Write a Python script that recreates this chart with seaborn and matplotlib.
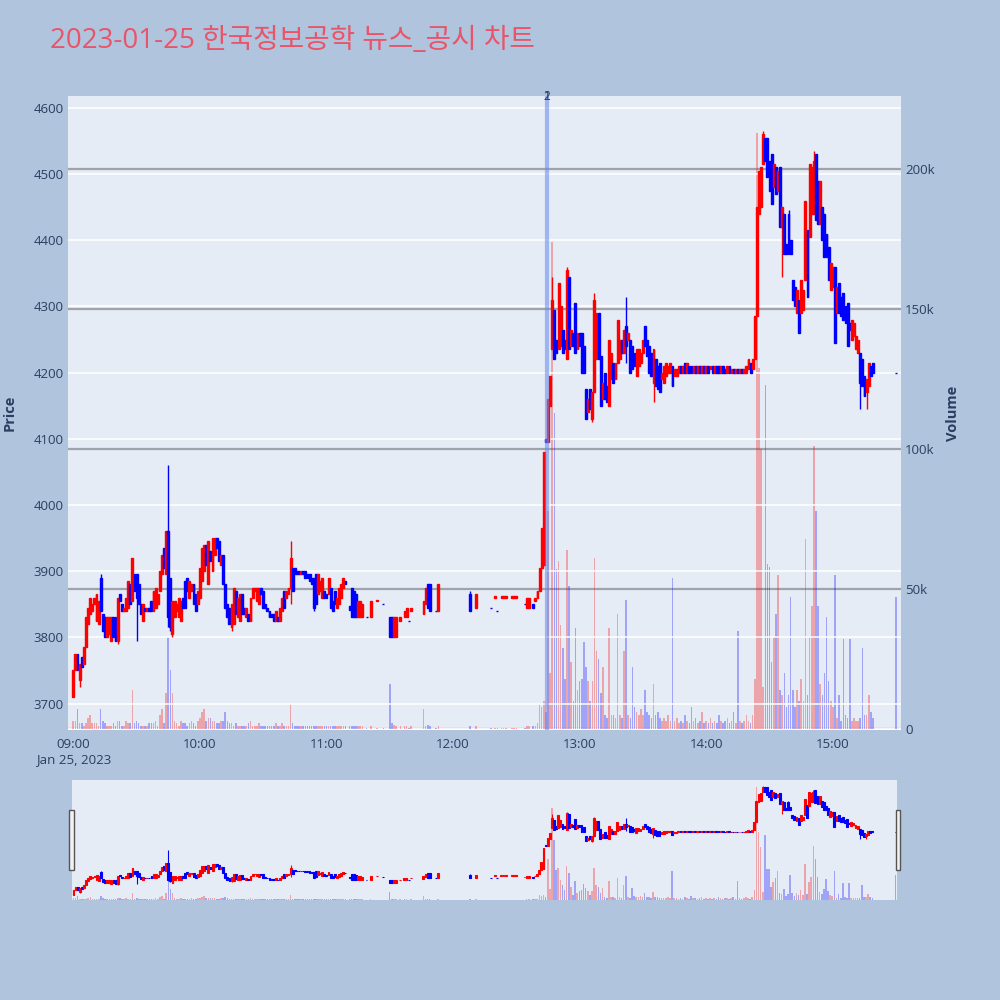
import pandas as pd
import seaborn as sns
import matplotlib.pyplot as plt
import matplotlib.transforms as mtransforms
from matplotlib.patches import Rectangle

# minute candles, index 0 = 09:00 (prices in KRW, volume in thousands)
open_09 = [3710, 3750, 3775, 3735, 3770, 3760, 3785, 3820, 3835, 3840,
           3850, 3825, 3820, 3890, 3835, 3830, 3800, 3805, 3795, 3830,
           3830, 3795, 3865, 3850, 3840, 3840, 3845, 3880, 3855, 3895,
           3895, 3880, 3850, 3825, 3845, 3840, 3845, 3855, 3840, 3845,
           3850, 3870, 3895, 3935, 3895, 3960, 3890, 3805, 3830, 3840,
           3830, 3825, 3860, 3885, 3890, 3860, 3870, 3880, 3865, 3850]
close_09 = [3750, 3775, 3750, 3760, 3755, 3785, 3830, 3845, 3860, 3850,
            3860, 3865, 3855, 3840, 3810, 3800, 3830, 3830, 3830, 3800,
            3795, 3860, 3855, 3840, 3845, 3860, 3885, 3850, 3920, 3870,
            3860, 3850, 3835, 3850, 3840, 3845, 3840, 3840, 3870, 3875,
            3865, 3900, 3925, 3905, 3960, 3830, 3815, 3855, 3855, 3850,
            3860, 3855, 3845, 3845, 3870, 3885, 3880, 3850, 3840, 3870]
vol_09 = [3, 3, 7, 2, 2, 1, 2, 4, 5, 2,
          2, 2, 1, 7, 3, 2, 1, 1, 1, 2,
          1, 3, 3, 1, 1, 3, 2, 2, 14, 2,
          3, 2, 1, 1, 1, 1, 2, 2, 2, 3,
          1, 5, 7, 2, 13, 33, 21, 13, 3, 2,
          1, 3, 2, 2, 1, 2, 3, 2, 1, 3]

open_10 = [3860, 3885, 3900, 3940, 3880, 3930, 3900, 3925, 3950, 3945,
           3910, 3925, 3880, 3850, 3845, 3815, 3820, 3870, 3830, 3825,
           3865, 3845, 3830, 3835, 3825, 3860, 3870, 3855, 3850, 3875,
           3870, 3850, 3845, 3840, 3835, 3835, 3825, 3830, 3825, 3840,
           3870, 3860, 3865, 3875, 3905, 3905, 3900, 3900, 3895, 3900,
           3900, 3895, 3895, 3890, 3890, 3895, 3865, 3870, 3860, 3870]
close_10 = [3905, 3935, 3940, 3910, 3945, 3915, 3950, 3950, 3935, 3915,
            3925, 3880, 3845, 3830, 3820, 3850, 3875, 3835, 3860, 3865,
            3835, 3835, 3845, 3825, 3860, 3875, 3875, 3875, 3875, 3865,
            3845, 3845, 3840, 3830, 3830, 3825, 3840, 3825, 3845, 3860,
            3845, 3870, 3875, 3920, 3870, 3895, 3895, 3895, 3900, 3895,
            3890, 3890, 3885, 3880, 3845, 3850, 3895, 3885, 3890, 3860]
vol_10 = [4, 6, 7, 3, 4, 4, 3, 3, 2, 2,
          3, 3, 6, 3, 2, 2, 1, 2, 1, 1,
          1, 1, 1, 2, 3, 1, 1, 1, 2, 1,
          1, 1, 1, 1, 1, 1, 2, 1, 1, 2,
          1, 1, 1, 9, 2, 1, 1, 1, 1, 1,
          1, 1, 1, 1, 1, 1, 1, 1, 1, 1]

open_11 = [3865, 3865, 3875, 3855, 3870, 3845, 3850, 3860, 3875, 3885,
           None, 3847, 3875, 3870, 3865, 3830, 3830, 3830, None, 3830,
           None, 3830, None, None, 3855, None, None, 3850, None, None,
           3830, 3830, 3800, 3800, None, 3825, None, 3830, 3830, 3825,
           3840, None, None, None, None, None, 3835, 3850, 3880, 3880,
           None, None, 3840, 3840, None, None, None, None, None, None]
close_11 = [3860, 3890, 3845, 3840, 3850, 3860, 3875, 3880, 3890, 3880,
            None, 3842, 3830, 3830, 3830, 3855, 3855, 3850, None, 3830,
            None, 3855, None, None, 3857, None, None, 3850, None, None,
            3800, 3800, 3830, 3830, None, 3830, None, 3840, 3845, 3825,
            3845, None, None, None, None, None, 3855, 3875, 3845, 3840,
            None, None, 3840, 3880, None, None, None, None, None, None]
vol_11 = [1, 1, 1, 1, 1, 1, 1, 1, 1, 1,
          None, 1, 1, 1, 1, 1, 1, 1, None, 0.5,
          None, 1, None, None, 0.5, None, None, 0.5, None, None,
          16, 2, 1.5, 1, None, 1, None, 1, 1, 0.5,
          1, None, None, None, None, None, 7, 1, 1.5, 1,
          None, None, 0.5, 1, None, None, None, None, None, None]

open_12 = [None, None, None, None, None, None, None, None, 3865, None,
           None, 3845, None, None, None, None, None, None, 3845, None,
           3860, 3840, None, 3860, 3860, 3860, None, None, 3860, 3860,
           3860, None, None, None, 3850, 3845, 3845, None, 3850, 3855,
           3860, 3870, 3905, 3910, 4100, 4095, 4150, 4235, 4295, 4250,
           4235, 4240, 4265, 4250, 4220, 4345, 4240, 4260, 4305, 4235]
close_12 = [None, None, None, None, None, None, None, None, 3840, None,
            None, 3865, None, None, None, None, None, None, 3845, None,
            3862, 3840, None, 3862, 3862, 3862, None, None, 3862, 3862,
            3862, None, None, None, 3850, 3860, 3860, None, 3845, 3860,
            3870, 3905, 3965, 4080, 4095, 4160, 4195, 4310, 4220, 4230,
            4335, 4300, 4230, 4235, 4355, 4235, 4265, 4240, 4230, 4260]
vol_12 = [None, None, None, None, None, None, None, None, 1, None,
          None, 1, None, None, None, None, None, None, 0.5, None,
          0.3, 0.3, None, 0.3, 0.3, 0.3, None, None, 0.3, 0.3,
          0.3, None, None, None, 0.5, 1, 1, None, 1, 1,
          2, 9, 8, 10, 6, 78, 20, 174, 113, 57,
          60, 37, 29, 18, 64, 51, 24, 10, 36, 14]

open_13 = [4260, 4260, 4240, 4175, 4140, 4175, 4130, 4170, 4220, 4290,
           4225, 4160, 4200, 4180, 4150, 4190, 4215, 4190, 4215, 4220,
           4250, 4230, 4270, 4250, 4250, 4240, 4230, 4195, 4210, 4215,
           4230, 4270, 4250, 4240, 4230, 4185, 4220, 4210, 4215, 4190,
           4185, 4195, 4200, 4200, 4210, 4195, 4195, 4200, 4210, 4200,
           4215, 4200, 4210, 4210, 4200, 4210, 4200, 4210, 4200, 4210]
close_13 = [4240, 4200, 4200, 4130, 4160, 4145, 4170, 4310, 4290, 4220,
            4150, 4185, 4160, 4155, 4250, 4230, 4185, 4215, 4280, 4250,
            4230, 4265, 4240, 4260, 4200, 4205, 4210, 4235, 4235, 4230,
            4250, 4240, 4225, 4200, 4195, 4235, 4180, 4175, 4170, 4200,
            4210, 4215, 4210, 4215, 4180, 4205, 4205, 4210, 4200, 4210,
            4200, 4215, 4200, 4200, 4210, 4200, 4210, 4200, 4210, 4200]
vol_13 = [17, 18, 31, 22, 17, 10, 17, 61, 28, 25,
          13, 22, 5, 4, 36, 5, 5, 4, 41, 5,
          4, 28, 46, 5, 4, 22, 8, 6, 5, 7,
          5, 14, 6, 5, 4, 16, 5, 6, 4, 3,
          4, 3, 5, 3, 54, 3, 4, 2, 3, 2,
          5, 3, 2, 8, 3, 4, 2, 3, 6, 2]

open_14 = [4200, 4210, 4205, 4210, 4200, 4210, 4210, 4200, 4210, 4205,
           4200, 4210, 4200, 4205, 4200, 4205, 4200, 4205, 4200, 4200,
           4205, 4215, 4205, 4220, 4285, 4440, 4450, 4515, 4555, 4555,
           4520, 4530, 4480, 4510, 4475, 4510, 4420, 4440, 4395, 4440,
           4400, 4340, 4330, 4290, 4310, 4290, 4295, 4340, 4415, 4405,
           4440, 4440, 4530, 4490, 4425, 4450, 4440, 4410, 4390, 4325]
close_14 = [4210, 4200, 4210, 4200, 4210, 4200, 4200, 4210, 4200, 4200,
            4210, 4200, 4205, 4200, 4205, 4200, 4205, 4200, 4205, 4210,
            4220, 4200, 4220, 4285, 4450, 4505, 4510, 4560, 4520, 4495,
            4475, 4455, 4515, 4470, 4505, 4420, 4450, 4380, 4380, 4380,
            4380, 4310, 4300, 4325, 4260, 4340, 4325, 4460, 4315, 4515,
            4510, 4520, 4430, 4425, 4490, 4400, 4375, 4375, 4340, 4365]
vol_14 = [3, 2, 4, 2, 3, 2, 5, 3, 2, 3,
          4, 2, 3, 6, 2, 35, 3, 2, 3, 5,
          3, 2, 5, 18, 213, 129, 100, 15, 123, 59,
          58, 24, 33, 41, 55, 14, 12, 20, 8, 12,
          47, 14, 8, 14, 10, 18, 10, 68, 12, 33,
          44, 101, 78, 44, 16, 12, 20, 40, 17, 10]

open_15 = [4330, 4360, 4290, 4335, 4315, 4320, 4300, 4305, 4275, 4250,
           4255, 4235, 4230, 4230, 4220, 4195, 4170, 4180, 4210, 4215,
           None, None, None, None, None, None, None, None, None, None,
           4200]
close_15 = [4360, 4245, 4330, 4290, 4285, 4280, 4275, 4240, 4265, 4280,
            4275, 4255, 4250, 4185, 4180, 4165, 4190, 4215, 4195, 4200,
            None, None, None, None, None, None, None, None, None, None,
            4200]
vol_15 = [8, 55, 4, 12, 3, 32, 5, 4, 32, 3,
          4, 3, 3, 4, 29, 5, 5, 12, 6, 4,
          None, None, None, None, None, None, None, None, None, None,
          47]

# wicks reaching beyond the candle body
wick_minute = [3, 13, 21, 30, 45, 46, 47, 75, 103, 114, 188, 227, 234,
               246, 247, 262, 275, 327, 336, 339, 351, 373, 376]
wick_high = [None, 3895, None, None, 4060, None, None, None, 3945, None, 3870, 4345, 4360,
             None, 4320, 4315, None, 4565, None, 4445, 4535, None, None]
wick_low = [3725, None, 3790, 3795, 3815, 3810, 3800, 3810, 3850, 3840, None, None, None,
            4125, None, 4215, 4155, None, 4345, None, None, 4145, 4145]

# news / disclosure markers
news_minute = [224.5, 224.5]
news_label = ['1', '2']

hour_labels = ['09:00\nJan 25, 2023', '10:00', '11:00', '12:00', '13:00', '14:00', '15:00']

sessions = [(0, open_09, close_09, vol_09), (60, open_10, close_10, vol_10),
            (120, open_11, close_11, vol_11), (180, open_12, close_12, vol_12),
            (240, open_13, close_13, vol_13), (300, open_14, close_14, vol_14),
            (360, open_15, close_15, vol_15)]

frames = []
for start, o, c, v in sessions:
    frames.append(pd.DataFrame({'minute': range(start, start + len(o)),
                                'open': pd.array(o, dtype='Float64'),
                                'close': pd.array(c, dtype='Float64'),
                                'volume': pd.array(v, dtype='Float64')}))
df = pd.concat(frames).dropna().astype(float).set_index('minute')
df['volume'] *= 1000
df['high'] = df[['open', 'close']].max(axis=1)
df['low'] = df[['open', 'close']].min(axis=1)
for m, hi, lo in zip(wick_minute, wick_high, wick_low):
    if hi is not None:
        df.loc[m, 'high'] = hi
    if lo is not None:
        df.loc[m, 'low'] = lo
df = df.reset_index()
df['color'] = ['#FF0000' if c > o else '#0000FF' for o, c in zip(df['open'], df['close'])]

BG = '#B0C4DE'
PLOT_BG = '#E5ECF6'
TXT = '#2a3f5f'

sns.set_theme(style="darkgrid", rc={'axes.facecolor': PLOT_BG, 'figure.facecolor': BG,
                                    'grid.color': 'white', 'axes.edgecolor': PLOT_BG})
plt.rcParams['font.family'] = ['Open Sans', 'Noto Sans CJK KR', 'DejaVu Sans']


def draw_candles(ax, data, body_w, lw):
    ax.vlines(data['minute'], data['low'], data['high'], colors=data['color'], lw=lw, zorder=3)
    ax.bar(data['minute'], (data['close'] - data['open']).abs(),
           bottom=data[['open', 'close']].min(axis=1), width=body_w,
           color=data['color'], edgecolor=data['color'], linewidth=lw, zorder=3)


def draw_volume(ax, data):
    ax.bar(data['minute'], data['volume'], width=0.75, color=data['color'],
           alpha=0.3, linewidth=0, zorder=2)


fig = plt.figure(figsize=(10, 10), dpi=100)

# main chart: volume axis behind, price axis on top
ax_vol = fig.add_axes([0.068, 0.270, 0.833, 0.634])
ax_px = ax_vol.twinx()

draw_volume(ax_vol, df)
ax_vol.axhline(0, color='white', lw=2, zorder=1)
ax_vol.set_ylim(-360, 226100)
ax_vol.set_yticks([0, 50000, 100000, 150000, 200000])
ax_vol.set_yticklabels(['0', '50k', '100k', '150k', '200k'])
ax_vol.yaxis.tick_right()
ax_vol.grid(axis='y', color='#A0A3AA', lw=1.6)
ax_vol.grid(axis='x', visible=False)

draw_candles(ax_px, df, 0.9, 1.0)
ax_px.set_ylim(3660, 4618)
ax_px.set_yticks(range(3700, 4601, 100))
ax_px.yaxis.tick_left()
ax_px.grid(axis='y', color='white', lw=1.1)
ax_px.grid(axis='x', visible=False)
ax_px.set_axisbelow(True)

trans = mtransforms.blended_transform_factory(ax_px.transData, ax_px.transAxes)
for m, lab in zip(news_minute, news_label):
    ax_px.axvline(m, color='#6a8cf0', alpha=0.35, lw=3, zorder=5)
    ax_px.text(m, 1.0, lab, transform=trans, ha='center', va='center',
               fontsize=8.5, color=TXT, zorder=6, clip_on=False)

for a in (ax_vol, ax_px):
    a.set_xlim(-2.5, 392.3)
    for s in a.spines.values():
        s.set_visible(False)
    a.tick_params(length=0, colors=TXT, labelsize=9.5, pad=3)
    a.set_ylabel('')
ax_vol.set_xticks(range(0, 361, 60))
ax_vol.set_xticklabels(hour_labels, linespacing=1.15, va='top')
ax_vol.tick_params(axis='x', pad=6)

fig.text(0.010, 0.587, 'Price', rotation=90, ha='center', va='center',
         fontsize=10.5, fontweight='bold', color=TXT)
fig.text(0.953, 0.587, 'Volume', rotation=90, ha='center', va='center',
         fontsize=10.5, fontweight='bold', color=TXT)

# range slider preview
sl_vol = fig.add_axes([0.072, 0.100, 0.825, 0.120])
sl_px = sl_vol.twinx()
draw_volume(sl_vol, df)
sl_vol.set_ylim(0, 226000)
draw_candles(sl_px, df, 0.9, 0.8)
sl_px.set_ylim(3669, 4612)
for a in (sl_vol, sl_px):
    a.set_xlim(-0.7, 390.7)
    a.set_xticks([])
    a.set_yticks([])
    a.grid(False)
    for s in a.spines.values():
        s.set_visible(False)
for x0 in (0.069, 0.8955):
    fig.patches.append(Rectangle((x0, 0.130), 0.0045, 0.060, transform=fig.transFigure,
                                 facecolor='#f2f2f2', edgecolor='#555555', lw=1))

fig.text(0.050, 0.959, '2023-01-25 한국정보공학 뉴스_공시 차트', ha='left', va='center',
         fontsize=20, color='#E8556A', family=['Open Sans', 'Noto Sans CJK KR', 'DejaVu Sans'])

fig.savefig('out.png', dpi=100, facecolor=BG)
